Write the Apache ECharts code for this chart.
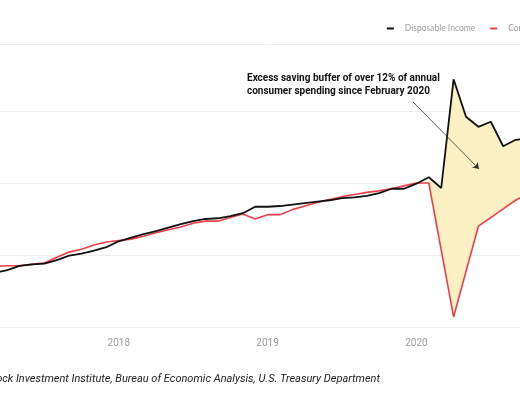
<!DOCTYPE html>
<html>
<head>
<meta charset="utf-8">
<script src="https://cdn.jsdelivr.net/npm/echarts@6/dist/echarts.min.js"></script>
<style>
  html, body { margin: 0; padding: 0; overflow: hidden; background: #fff; }
  #wrap { position: relative; width: 520px; height: 400px; overflow: hidden; }
  /* the reference is a crop of a wider chart, so the chart is wider than the window */
  #chart { position: absolute; left: -70px; top: 0; width: 680px; height: 400px; }
</style>
</head>
<body>
<div id="wrap"><div id="chart"></div></div>
<script>
// months counted from Jan 2017 (0) to Nov 2020 (46)
var yearTicks = ['2017', '2018', '2019', '2020', '2021'];

// Disposable income, index (Feb 2020 = 100)
var income = [
  87.1, 87.2, 87.5, 87.9, 88.5, 88.7, 88.8, 89.3, 89.9, 90.2, 90.6, 91.1,
  91.9, 92.4, 92.9, 93.3, 93.8, 94.3, 94.7, 95.0, 95.1, 95.4, 95.8, 96.7,
  96.7, 96.8, 97.0, 97.2, 97.4, 97.6, 97.9, 98.0, 98.2, 98.6, 99.2, 99.2,
  99.9, 100.8, 99.3, 114.4, 109.2, 107.8, 108.5, 105.1, 106.0, 106.2, 105.3
];

// Consumer spending, index (Feb 2020 = 100)
var spending = [
  88.2, 88.3, 88.4, 88.5, 88.5, 88.7, 88.9, 89.7, 90.4, 90.8, 91.4, 91.8,
  92.0, 92.2, 92.6, 93.1, 93.5, 93.9, 94.4, 94.7, 94.7, 95.2, 95.7, 95.0,
  95.6, 95.6, 96.3, 96.8, 97.3, 97.7, 98.1, 98.4, 98.7, 98.9, 99.2, 99.6,
  100.0, 100.0, 90.7, 81.4, 87.7, 94.0, 95.2, 96.4, 97.6, 98.5, 98.8
];

// shaded gap starts in Feb 2020
var gapStart = 37;

var incomeData = income.map(function (v, i) { return [i, v]; });
var spendingData = spending.map(function (v, i) { return [i, v]; });

// polygon between the two lines, built through the axes
function renderGap(params, api) {
  var pts = [];
  var i;
  for (i = gapStart; i < income.length; i++) {
    pts.push(api.coord([i, income[i]]));
  }
  for (i = income.length - 1; i >= gapStart; i--) {
    pts.push(api.coord([i, spending[i]]));
  }
  return {
    type: 'polygon',
    shape: { points: pts },
    style: { fill: '#faf0c4' }
  };
}

var myChart = echarts.init(document.getElementById('chart'));

var option = {
  animation: false,
  backgroundColor: '#fff',
  legend: {
    right: 22,
    top: 19,
    data: ['Disposable Income', 'Consumer Spending'],
    icon: 'rect',
    itemWidth: 7,
    itemHeight: 2,
    itemGap: 15,
    textStyle: { color: '#9a9a9a', fontSize: 8.5, fontFamily: 'Lato', padding: [0, 0, 0, 6] }
  },
  grid: { left: 40, right: 44.8, top: 44, bottom: 73 },
  xAxis: {
    type: 'value',
    min: 0,
    max: 48,
    interval: 12,
    axisLine: { show: false },
    axisTick: { show: false },
    splitLine: { show: false },
    axisLabel: {
      color: '#9a9a9a',
      fontSize: 10,
      fontFamily: 'Roboto',
      margin: 11,
      formatter: function (v) { return yearTicks[v / 12] || ''; }
    }
  },
  yAxis: {
    type: 'value',
    min: 80,
    max: 119.3,
    interval: 10,
    axisLine: { show: false },
    axisTick: { show: false },
    axisLabel: { show: false },
    splitLine: { lineStyle: { color: '#ededed', width: 1 } }
  },
  series: [
    {
      name: 'gap',
      type: 'custom',
      silent: true,
      data: [[gapStart, income[gapStart]]],
      renderItem: renderGap,
      z: 1
    },
    {
      name: 'Consumer Spending',
      type: 'line',
      data: spendingData,
      symbol: 'none',
      color: '#f03e48',
      lineStyle: { color: '#f03e48', width: 1.6 },
      z: 3
    },
    {
      name: 'Disposable Income',
      type: 'line',
      data: incomeData,
      symbol: 'none',
      color: '#111',
      lineStyle: { color: '#111', width: 1.8 },
      z: 4,
      markLine: {
        silent: true,
        symbol: ['none', 'arrow'],
        symbolSize: 6,
        label: { show: false },
        lineStyle: { color: '#333', width: 0.8, type: 'solid' },
        data: [[{ coord: [35.73, 111.25] }, { coord: [41.05, 101.94] }]]
      }
    }
  ],
  graphic: [
    {
      type: 'text',
      left: 317,
      top: 72,
      style: {
        text: 'Excess saving buffer of over 12% of annual\nconsumer spending since February 2020',
        fill: '#111',
        font: 'bold 10px Roboto',
        lineHeight: 13
      }
    },
    {
      type: 'text',
      x: 450,
      y: 379,
      style: {
        text: 'Sources: BlackRock Investment Institute, Bureau of Economic Analysis, U.S. Treasury Department',
        fill: '#222',
        font: 'italic 11px Roboto',
        align: 'right',
        verticalAlign: 'middle'
      }
    }
  ]
};

myChart.setOption(option);
</script>
</body>
</html>
